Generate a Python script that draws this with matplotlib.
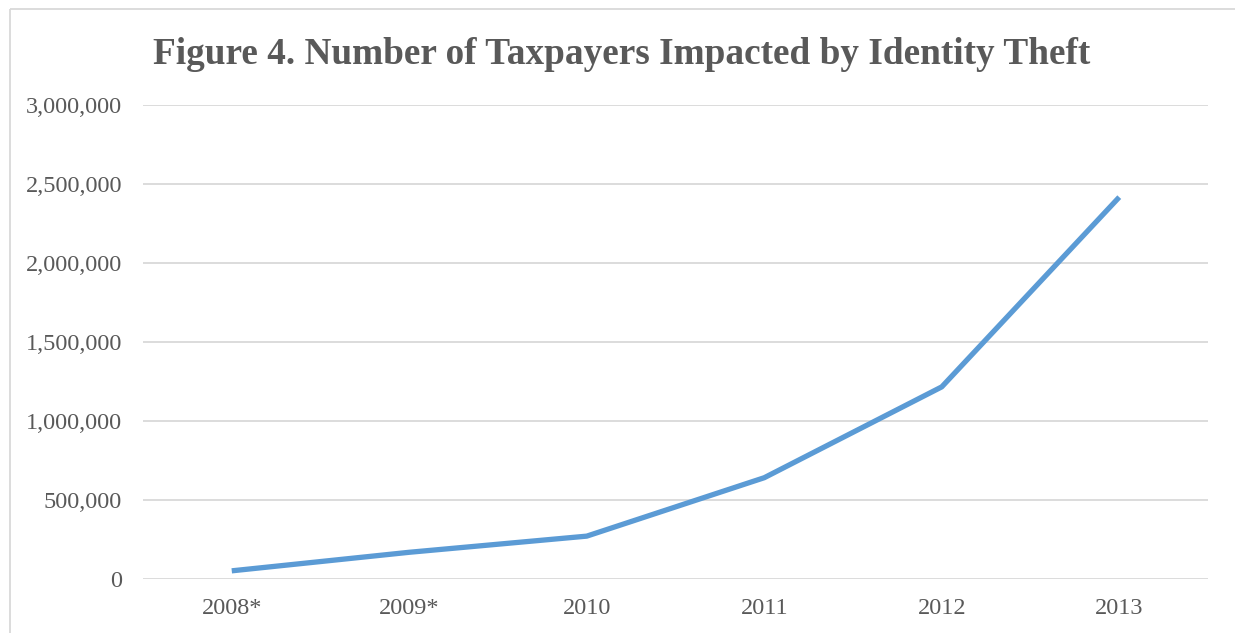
import matplotlib
matplotlib.use("Agg")
import matplotlib.pyplot as plt
from matplotlib.ticker import FuncFormatter
from matplotlib.lines import Line2D

years = ["2008*", "2009*", "2010", "2011", "2012", "2013"]
taxpayers = [51702, 169087, 271297, 641052, 1215966, 2416773]
yticks = [0, 500000, 1000000, 1500000, 2000000, 2500000, 3000000]

plt.rcParams['font.family'] = ['Liberation Serif', 'DejaVu Serif']
text_color = "#595959"
grid_color = "#D9D9D9"
line_color = "#5B9BD5"

fig = plt.figure(figsize=(12.35, 6.33), dpi=100)
ax = fig.add_axes([143/1235, 1-579/633, (1208-143)/1235, (579-105)/633])

x = list(range(len(years)))
ax.plot(x, taxpayers, color=line_color, linewidth=3.8, solid_capstyle='butt', zorder=3)

ax.set_xlim(-0.5, len(years) - 0.5)
ax.set_ylim(0, 3000000)
ax.set_yticks(yticks)
ax.yaxis.set_major_formatter(FuncFormatter(lambda v, p: f"{int(v):,}"))
ax.set_xticks(x)
ax.set_xticklabels(years)
ax.grid(axis='y', color=grid_color, linewidth=1.3)
ax.set_axisbelow(True)
for s in ax.spines.values():
    s.set_visible(False)
ax.tick_params(axis='both', length=0, labelsize=17.5, labelcolor=text_color)
ax.tick_params(axis='y', pad=15)
ax.tick_params(axis='x', pad=14)

fig.text(622/1235, 1-54/633, "Figure 4. Number of Taxpayers Impacted by Identity Theft",
         ha='center', va='center', fontsize=26.8, fontweight='bold', color=text_color)

top_y = 1 - 8.5/633
left_x = 9.5/1235
fig.add_artist(Line2D([left_x, 1.01], [top_y, top_y], transform=fig.transFigure,
                      color=grid_color, linewidth=1.3, solid_capstyle='butt'))
fig.add_artist(Line2D([left_x, left_x], [-0.01, top_y], transform=fig.transFigure,
                      color=grid_color, linewidth=1.3, solid_capstyle='butt'))

fig.savefig("out.png", dpi=100, facecolor='white')
